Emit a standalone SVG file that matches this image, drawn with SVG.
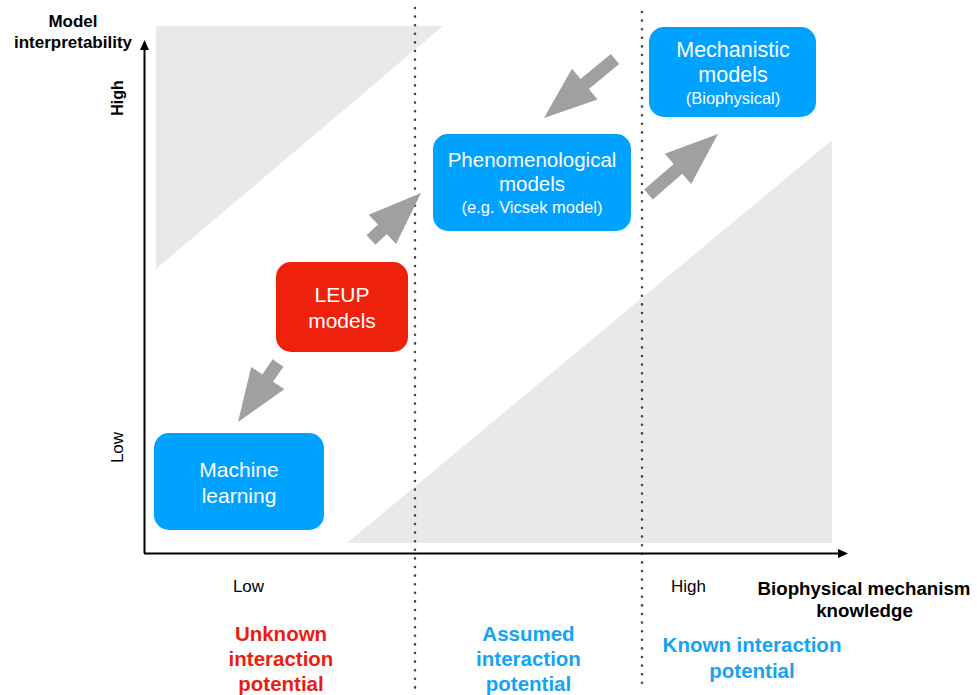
<svg xmlns="http://www.w3.org/2000/svg" width="977" height="695" viewBox="0 0 977 695">
  <defs>
    <style>
      text { font-family: "Liberation Sans", Arial, sans-serif; }
      .box-blue { fill: #00A2FF; }
      .box-red { fill: #EE220C; }
      .wt { fill: #ffffff; text-anchor: middle; }
      .big { font-size: 20.5px; }
      .big2 { font-size: 21px; }
      .sub { font-size: 16px; }
      .shade { fill: #E9E9E9; }
      .divider { stroke: #444444; stroke-width: 2.6; stroke-linecap: round; stroke-dasharray: 0 8.6; fill: none; }
      .axis { stroke: #000000; stroke-width: 2; fill: none; }
      .arrow { fill: #A0A0A0; }
      .axlab { font-weight: bold; font-size: 17px; fill: #000; text-anchor: middle; }
      .tick { font-size: 17px; fill: #000; text-anchor: middle; }
      .cat { font-weight: bold; font-size: 20.5px; text-anchor: middle; }
      .red { fill: #EE1C0E; }
      .blue { fill: #12A4F6; }
    </style>
  </defs>

  <rect width="977" height="695" fill="#ffffff"/>

  <!-- background shaded regions -->
  <polygon class="shade" points="156,26 443,26 156,269"/>
  <polygon class="shade" points="347,543 832,543 832,140"/>

  <!-- dotted dividers -->
  <line class="divider" x1="415" y1="8" x2="415" y2="690"/>
  <line class="divider" x1="642" y1="12" x2="642" y2="690"/>

  <!-- axes -->
  <g id="axes">
    <line class="axis" x1="144.5" y1="553.5" x2="144.5" y2="48"/>
    <polygon points="144.5,40 140,50 149,50" fill="#000"/>
    <line class="axis" x1="144" y1="553.5" x2="840" y2="553.5"/>
    <polygon points="848,553.5 838,549 838,558" fill="#000"/>
    <text class="axlab" x="73" y="27">Model</text>
    <text class="axlab" x="73" y="48">interpretability</text>
    <text class="axlab" transform="translate(122.5,98) rotate(-90)" style="font-size:16px">High</text>
    <text class="tick" transform="translate(122.5,447.5) rotate(-90)">Low</text>
    <text class="tick" x="248.5" y="592">Low</text>
    <text class="tick" x="688.5" y="592">High</text>
    <text class="axlab" x="864" y="595" style="font-size:18.7px">Biophysical mechanism</text>
    <text class="axlab" x="864.5" y="617" style="font-size:18.7px">knowledge</text>
  </g>

  <!-- category labels -->
  <g id="label-unknown">
    <text class="cat red" x="281" y="641">Unknown</text>
    <text class="cat red" x="281" y="666">interaction</text>
    <text class="cat red" x="281" y="691">potential</text>
  </g>
  <g id="label-assumed">
    <text class="cat blue" x="528.5" y="641">Assumed</text>
    <text class="cat blue" x="528.5" y="666">interaction</text>
    <text class="cat blue" x="528.5" y="691">potential</text>
  </g>
  <g id="label-known">
    <text class="cat blue" x="752" y="652">Known interaction</text>
    <text class="cat blue" x="752" y="678">potential</text>
  </g>

  <!-- connectors -->
  <g id="connectors">
    <polygon class="arrow" transform="translate(278,363) rotate(124.1)" points="0,-6.5 18.3,-6.5 18.3,-20 71.3,0 18.3,20 18.3,6.5 0,6.5"/>
    <polygon class="arrow" transform="translate(371,240) rotate(-43.2)" points="0,-6.5 15.6,-6.5 15.6,-20 68.6,0 15.6,20 15.6,6.5 0,6.5"/>
    <polygon class="arrow" transform="translate(648.5,194.5) rotate(-41)" points="0,-6.5 39.1,-6.5 39.1,-20 92.1,0 39.1,20 39.1,6.5 0,6.5"/>
    <polygon class="arrow" transform="translate(615,59) rotate(140.3)" points="0,-6.5 39.3,-6.5 39.3,-20 92.3,0 39.3,20 39.3,6.5 0,6.5"/>
  </g>

  <!-- nodes -->
  <g id="node-mechanistic">
    <rect class="box-blue" x="649" y="27" width="167" height="90" rx="15"/>
    <text class="wt" x="733" y="57" style="font-size:21.5px">Mechanistic</text>
    <text class="wt" x="733" y="82" style="font-size:21.5px">models</text>
    <text class="wt" x="733" y="104" style="font-size:16.5px">(Biophysical)</text>
  </g>
  <g id="node-phenomenological">
    <rect class="box-blue" x="433" y="134" width="198" height="97" rx="15"/>
    <text class="wt big" x="532" y="167">Phenomenological</text>
    <text class="wt big" x="532" y="191">models</text>
    <text class="wt" x="532" y="213" style="font-size:16.5px">(e.g. Vicsek model)</text>
  </g>
  <g id="node-leup">
    <rect class="box-red" x="276" y="262" width="132" height="90" rx="15"/>
    <text class="wt big2" x="342" y="302">LEUP</text>
    <text class="wt big2" x="342" y="328">models</text>
  </g>
  <g id="node-machine-learning">
    <rect class="box-blue" x="154" y="433" width="170" height="97" rx="15"/>
    <text class="wt big2" x="239" y="477">Machine</text>
    <text class="wt big2" x="239" y="503">learning</text>
  </g>
</svg>
